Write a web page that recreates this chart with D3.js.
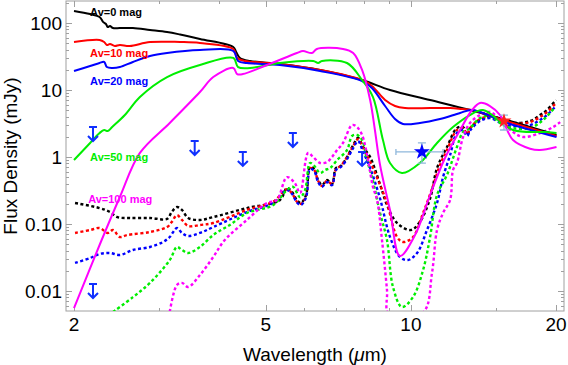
<!DOCTYPE html>
<html>
<head>
<meta charset="utf-8">
<script src="https://cdn.jsdelivr.net/npm/d3@7"></script>
<style>
  html, body { margin: 0; padding: 0; background: #fff; }
  svg { display: block; font-family: "Liberation Sans", Arial, sans-serif; }
</style>
</head>
<body>
<svg id="chart" width="568" height="365"></svg>
<script>
// ---- data: [wavelength (um), flux (mJy)] ----
const av0Solid = [[2.0,151],[2.16,136],[2.26,123],[2.30,103],[2.33,96.6],[2.35,87],[2.375,90],[2.41,84],[2.49,84],[2.65,84],[2.875,78.7],[3.12,73.4],[3.32,67.3],[3.65,57.7],[4.28,43.8],[4.34,36.9],[4.42,30.1],[4.64,27.1],[5.35,24.4],[6.48,19.9],[7.92,14.1],[9.05,10],[10.96,7.09],[13.26,5.03],[16.06,3.44],[20.05,2.13]];
const av10Solid = [[2.0,52],[2.26,55.7],[2.31,52],[2.34,47],[2.375,48.6],[2.43,45.4],[2.49,47],[2.61,45.4],[2.875,52],[3.32,52],[3.65,50.3],[4.28,40.9],[4.36,30.1],[4.53,27.1],[5.35,24.4],[6.48,19.9],[7.92,14.1],[8.30,11.5],[8.84,7.09],[9.27,5.77],[9.72,5.38],[10.96,5.38],[12.06,5.38],[12.76,5.2],[13.39,5.03],[16.06,3.32],[20.05,2.06]];
const av20Solid = [[2.0,19.2],[2.16,22.8],[2.26,25.3],[2.31,26.2],[2.34,22],[2.40,21.3],[2.49,22],[2.65,26.2],[2.875,32.1],[3.12,35.6],[3.65,39.5],[4.28,38.2],[4.38,27.1],[4.57,25.3],[5.35,23.6],[6.48,19.2],[7.92,13.6],[8.30,10.7],[8.84,5.77],[9.27,3.69],[9.63,3.11],[10.44,3.22],[11.49,3.69],[12.65,4.54],[13.39,5.03],[16.06,3.11],[20.05,1.99]];
const av50Solid = [[2.0,0.902],[2.16,1.62],[2.26,2.28],[2.31,2.53],[2.35,2.44],[2.40,2.8],[2.55,4.23],[2.74,7.87],[3.12,15.6],[3.65,23.6],[4.28,30.1],[4.38,22],[4.64,21.3],[5.35,25.3],[6.27,27.1],[6.42,25.3],[6.54,27.1],[7.37,25.3],[7.92,14.1],[8.34,7.87],[8.75,1.79],[9.05,0.814],[9.58,0.577],[10.44,0.814],[11.33,1.62],[12.23,2.8],[13.26,4.23],[14.11,5.03],[16.29,2.53],[19.15,2.36],[20.05,2.28]];
const av100Solid = [[2.0,0.00557],[2.26,0.0486],[2.49,0.253],[2.74,1.15],[3.16,3.22],[3.65,9.33],[3.89,15.6],[4.28,21.3],[4.36,17.3],[4.48,17.3],[5.03,23.6],[5.80,35.6],[5.97,38.2],[6.23,35.6],[6.38,40.9],[7.23,40.9],[7.59,35.6],[7.92,19.9],[8.23,7.09],[8.42,2.53],[8.63,0.76],[9.05,0.162],[9.49,0.0333],[10.2,0.0685],[10.96,0.271],[11.77,0.966],[12.65,2.53],[13.39,5.03],[13.91,6.4],[14.59,5.77],[15.31,4.23],[16.29,1.79],[17.67,1.33],[18.53,1.27],[20.05,1.41]];

const av0Dashed = [[2.01,0.206],[2.26,0.173],[2.375,0.151],[2.46,0.127],[2.61,0.123],[2.875,0.123],[3.12,0.119],[3.19,0.151],[3.27,0.179],[3.35,0.162],[3.45,0.123],[3.65,0.115],[3.89,0.127],[4.57,0.173],[5.35,0.228],[5.53,0.344],[5.67,0.30],[5.80,0.228],[5.91,0.206],[6.06,0.271],[6.175,0.71],[6.30,0.66],[6.42,0.454],[6.54,0.382],[6.70,0.454],[6.86,0.396],[6.99,0.685],[7.16,0.739],[7.37,1.0],[7.59,1.51],[7.77,1.92],[7.96,1.41],[8.23,1.0],[8.63,0.39],[8.92,0.192],[9.36,0.1035],[10.0,0.0813],[10.44,0.108],[10.96,0.24],[11.33,0.685],[11.88,1.41],[12.46,2.7],[12.83,2.8],[13.07,2.13],[13.33,2.8],[13.91,3.56],[14.59,3.95],[15.53,3.44],[16.29,3.22],[17.67,3.44],[18.53,4.23],[19.15,5.03],[20.0,7.09]];
const av10Dashed = [[2.01,0.0735],[2.16,0.0813],[2.26,0.0871],[2.35,0.0735],[2.41,0.0813],[2.49,0.064],[2.58,0.0685],[2.875,0.076],[3.12,0.090],[3.19,0.107],[3.27,0.136],[3.35,0.115],[3.45,0.0933],[3.65,0.0967],[3.89,0.1035],[4.57,0.162],[5.18,0.216],[5.53,0.33],[5.67,0.285],[5.80,0.216],[5.91,0.20],[6.06,0.26],[6.175,0.685],[6.30,0.64],[6.42,0.44],[6.54,0.37],[6.70,0.44],[6.86,0.396],[6.99,0.66],[7.16,0.74],[7.37,1.0],[7.59,1.45],[7.77,1.85],[7.96,1.36],[8.23,0.85],[8.63,0.382],[8.92,0.206],[9.36,0.064],[9.63,0.0538],[10.1,0.064],[10.6,0.146],[11.1,0.36],[11.49,0.76],[11.88,1.27],[12.46,2.53],[12.83,2.7],[13.07,2.2],[13.33,2.8],[13.91,3.69],[14.59,3.95],[15.53,3.32],[16.29,3.11],[17.67,3.32],[18.53,3.95],[19.15,4.66],[20.0,6.4]];
const av20Dashed = [[2.01,0.0262],[2.16,0.0311],[2.26,0.0357],[2.375,0.0369],[2.49,0.0345],[2.65,0.0409],[2.875,0.0454],[3.06,0.0538],[3.16,0.064],[3.27,0.0871],[3.35,0.0735],[3.45,0.0663],[3.65,0.0735],[3.89,0.090],[4.57,0.151],[5.18,0.206],[5.53,0.322],[5.67,0.28],[5.80,0.21],[5.91,0.192],[6.06,0.25],[6.175,0.66],[6.30,0.62],[6.42,0.42],[6.54,0.36],[6.70,0.42],[6.86,0.38],[6.99,0.64],[7.16,0.71],[7.37,0.93],[7.59,1.36],[7.77,1.73],[7.96,1.19],[8.23,0.685],[8.63,0.24],[9.05,0.064],[9.49,0.0322],[9.86,0.029],[10.3,0.0369],[10.8,0.0813],[11.33,0.206],[11.66,0.50],[12.06,1.07],[12.46,2.28],[12.83,2.53],[13.07,2.06],[13.33,2.6],[13.91,3.44],[14.59,3.8],[15.53,3.11],[16.29,2.9],[17.67,3.0],[18.53,3.56],[19.15,4.23],[20.0,5.77]];
const av50Dashed = [[2.41,0.00486],[2.65,0.0081],[2.875,0.0132],[3.16,0.029],[3.27,0.0454],[3.35,0.0409],[3.45,0.0369],[3.65,0.0454],[3.89,0.0685],[4.21,0.0967],[4.57,0.146],[5.18,0.192],[5.53,0.322],[5.69,0.36],[5.89,0.25],[6.03,0.32],[6.175,0.814],[6.30,0.74],[6.48,0.577],[6.64,0.64],[6.80,0.685],[7.03,0.90],[7.37,1.27],[7.55,2.06],[7.73,2.13],[7.92,1.79],[8.11,0.90],[8.34,0.44],[8.63,0.146],[8.92,0.0577],[9.18,0.0115],[9.58,0.00577],[10.1,0.0081],[10.6,0.0206],[10.96,0.064],[11.33,0.271],[11.88,0.539],[12.46,1.41],[12.83,2.36],[13.26,2.7],[13.91,3.8],[14.59,4.08],[15.53,3.0],[16.29,2.7],[17.67,2.7],[18.8,3.56],[19.9,5.57]];
const av100Dashed = [[3.16,0.0049],[3.27,0.0123],[3.35,0.0132],[3.45,0.0115],[3.65,0.0173],[3.89,0.0322],[4.11,0.0577],[4.57,0.115],[5.03,0.206],[5.27,0.228],[5.53,0.50],[5.74,0.41],[5.89,0.29],[6.12,1.15],[6.27,1.0],[6.48,0.814],[6.70,0.84],[6.86,1.0],[7.03,1.27],[7.23,1.62],[7.55,3.0],[7.73,2.8],[7.92,2.13],[8.15,0.90],[8.34,0.36],[8.51,0.228],[8.71,0.0577],[8.92,0.0104],[9.0,0.0045],[10.6,0.0048],[11.06,0.0186],[11.33,0.0813],[11.66,0.146],[12.06,0.228],[12.23,0.64],[12.46,0.814],[12.83,1.99],[13.26,3.22],[13.91,4.23],[14.59,4.7],[15.31,3.56],[16.29,2.36],[17.09,1.99],[18.53,2.28],[19.72,2.8],[20.4,3.32]];

const modelNames = ["Av=0 mag", "Av=10 mag", "Av=20 mag", "Av=50 mag", "Av=100 mag"];
const solidSeries = [av0Solid, av10Solid, av20Solid, av50Solid, av100Solid];
const dashedSeries = [av0Dashed, av10Dashed, av20Dashed, av50Dashed, av100Dashed];
// where each model name sits: [wavelength, flux at baseline]
const labelAnchors = [[2.16,127],[2.16,31.1],[2.16,11.9],[2.16,0.872],[2.14,0.206]];

// upper limits (blue arrows)
const limitWave = [2.19, 3.56, 4.48, 5.69, 7.92, 2.19];
const limitFlux = [2.8, 1.73, 1.19, 2.28, 1.19, 0.0127];

// detections (stars) with error bars
const starWave = [10.54, 15.6];
const starFlux = [1.19, 3.44];
const starWaveErr = [[9.31, 11.66], null];
const starFluxErr = [[0.81, 1.62], [2.53, 4.23]];

const xMajor = [2, 5, 10, 20];
const xMajorLabels = ["2", "5", "10", "20"];
const xMinor = [3, 4, 6, 7, 8, 9, 15];
const yMajor = [0.01, 0.1, 1, 10, 100];
const yMajorLabels = ["0.01", "0.10", "1", "10", "100"];

// ---- styles ----
const colors = ["#000000", "#ff0000", "#0000ff", "#00ee00", "#ff00ff"];
const starColors = ["#0000ff", "#ff2020"];
const errColor = "#8fb8dc";
const frameColor = "#a0a0a0";

const plot = { left: 66, right: 564, top: 1, bottom: 311 };

const svg = d3.select("#chart");

const x = d3.scaleLog().domain([1.925, 20.78]).range([plot.left, plot.right]);
const y = d3.scaleLog().domain([0.00503, 213]).range([plot.bottom, plot.top]);

svg.append("defs").append("clipPath").attr("id", "clip")
  .append("rect")
  .attr("x", plot.left).attr("y", plot.top)
  .attr("width", plot.right - plot.left).attr("height", plot.bottom - plot.top);

// ---- frame and ticks (inward, on all four sides) ----
const frame = svg.append("g");
frame.append("rect")
  .attr("x", plot.left).attr("y", plot.top)
  .attr("width", plot.right - plot.left).attr("height", plot.bottom - plot.top)
  .attr("fill", "none").attr("stroke", frameColor).attr("stroke-width", 1);

const yMinor = [];
for (let e = -3; e <= 2; e++) {
  for (let k = 2; k <= 9; k++) {
    const v = k * Math.pow(10, e);
    if (v > 0.00503 && v < 213) yMinor.push(v);
  }
}

function xTicks(vals, len) {
  vals.forEach(v => {
    const px = Math.round(x(v)) + 0.5;
    frame.append("line").attr("x1", px).attr("x2", px)
      .attr("y1", plot.bottom).attr("y2", plot.bottom - len).attr("stroke", frameColor);
    frame.append("line").attr("x1", px).attr("x2", px)
      .attr("y1", plot.top).attr("y2", plot.top + len).attr("stroke", frameColor);
  });
}
function yTicks(vals, len) {
  vals.forEach(v => {
    const py = Math.round(y(v)) + 0.5;
    frame.append("line").attr("y1", py).attr("y2", py)
      .attr("x1", plot.left).attr("x2", plot.left + len).attr("stroke", frameColor);
    frame.append("line").attr("y1", py).attr("y2", py)
      .attr("x1", plot.right).attr("x2", plot.right - len).attr("stroke", frameColor);
  });
}
xTicks(xMajor, 6);
xTicks(xMinor, 3);
yTicks(yMajor, 6);
yTicks(yMinor, 3);

// tick labels
svg.append("g").selectAll("text").data(xMajor).join("text")
  .attr("x", d => x(d)).attr("y", 331)
  .attr("text-anchor", "middle").attr("font-size", 19).attr("fill", "#000")
  .text((d, i) => xMajorLabels[i]);

svg.append("g").selectAll("text").data(yMajor).join("text")
  .attr("x", 62).attr("y", d => y(d) + 7)
  .attr("text-anchor", "end").attr("font-size", 19).attr("fill", "#000")
  .text((d, i) => yMajorLabels[i]);

// axis titles
const xt = svg.append("text")
  .attr("x", (plot.left + plot.right) / 2).attr("y", 361)
  .attr("text-anchor", "middle").attr("font-size", 19).attr("fill", "#000");
xt.append("tspan").text("Wavelength (");
xt.append("tspan").attr("font-style", "italic").text("\u03bc");
xt.append("tspan").text("m)");

svg.append("text")
  .attr("transform", `translate(17,${(plot.top + plot.bottom) / 2}) rotate(-90)`)
  .attr("text-anchor", "middle").attr("font-size", 19).attr("fill", "#000")
  .text("Flux Density (mJy)");

// ---- model curves ----
const line = d3.line()
  .x(d => x(d[0]))
  .y(d => y(d[1]))
  .curve(d3.curveCatmullRom.alpha(0.5));

const curves = svg.append("g").attr("clip-path", "url(#clip)");

dashedSeries.forEach((s, i) => {
  curves.append("path").datum(s)
    .attr("d", line)
    .attr("fill", "none")
    .attr("stroke", colors[i])
    .attr("stroke-width", 2.4)
    .attr("stroke-dasharray", "3,2.5");
});

solidSeries.forEach((s, i) => {
  curves.append("path").datum(s)
    .attr("d", line)
    .attr("fill", "none")
    .attr("stroke", colors[i])
    .attr("stroke-width", 2);
});

// model labels
svg.append("g").selectAll("text").data(modelNames).join("text")
  .attr("x", (d, i) => x(labelAnchors[i][0]))
  .attr("y", (d, i) => y(labelAnchors[i][1]))
  .attr("font-size", 11).attr("font-weight", "bold")
  .attr("fill", (d, i) => colors[i])
  .text(d => d);

// ---- upper limits ----
const limits = svg.append("g")
  .attr("stroke", "#1030ff").attr("stroke-width", 2).attr("fill", "none");
limitWave.forEach((w, i) => {
  const cx = x(w), cy = y(limitFlux[i]);
  limits.append("path")
    .attr("d", `M${cx - 4},${cy}H${cx + 4}M${cx},${cy}V${cy + 14}M${cx - 5},${cy + 9}L${cx},${cy + 14}L${cx + 5},${cy + 9}`);
});

// ---- detections ----
const det = svg.append("g");
starWave.forEach((w, i) => {
  const cx = x(w), cy = y(starFlux[i]);
  if (starWaveErr[i]) {
    const x0 = x(starWaveErr[i][0]), x1 = x(starWaveErr[i][1]);
    det.append("path")
      .attr("d", `M${x0},${cy}H${x1}M${x0},${cy - 3}V${cy + 3}M${x1},${cy - 3}V${cy + 3}`)
      .attr("stroke", errColor).attr("stroke-width", 1.3).attr("fill", "none");
  }
  if (starFluxErr[i]) {
    const y0 = y(starFluxErr[i][0]), y1 = y(starFluxErr[i][1]);
    det.append("path")
      .attr("d", `M${cx},${y0}V${y1}M${cx - 4},${y0}H${cx + 4}M${cx - 4},${y1}H${cx + 4}`)
      .attr("stroke", errColor).attr("stroke-width", 1.3).attr("fill", "none");
  }
  det.append("path")
    .attr("d", d3.symbol(d3.symbolStar, i === 0 ? 80 : 70)())
    .attr("transform", `translate(${cx},${cy})`)
    .attr("fill", starColors[i]);
});
</script>
</body>
</html>
